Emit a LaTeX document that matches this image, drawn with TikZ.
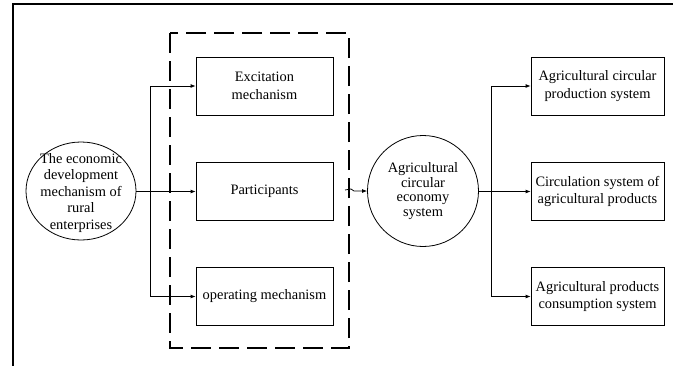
\documentclass[tikz,border=0pt]{standalone}
\usepackage{fontspec}
\setmainfont{Liberation Serif}
\newfontfamily\tnr{Liberation Serif}
\usetikzlibrary{arrows.meta,shapes.geometric}
\begin{document}
\begin{tikzpicture}[x=1pt,y=-1pt,
  txt/.style={font=\tnr\fontsize{14.4}{17.5}\selectfont, align=center},
  boxnode/.style={txt, draw, line width=0.8pt, minimum height=58pt, inner sep=0pt},
  lbox/.style={boxnode, minimum width=137pt},
  rbox/.style={boxnode, minimum width=133pt},
  conn/.style={line width=0.8pt},
  arr/.style={conn, -{Latex[length=5pt,width=4pt]}}
]
\useasboundingbox (0,0) rectangle (673,365);
% outer frame
\draw[line width=2pt] (13,366) -- (13,4) -- (674,4);
% dashed group
\draw[line width=1.4pt, dash pattern=on 20pt off 8pt] (170,33) rectangle (349,348);
% left nodes
\node[ellipse, draw, line width=0.8pt, minimum width=110pt, minimum height=98pt, inner sep=0pt] (ell) at (81,191) {};
\node[txt, font=\tnr\fontsize{14.4}{16.5}\selectfont] (elltext) at (81,193) {The economic\\development\\mechanism of\\rural\\enterprises};
\node[lbox] (e1) at (264.5,86) {Excitation\\mechanism};
\node[lbox] (e2) at (264.5,191.5) {Participants};
\node[lbox] (e3) at (264.5,296.5) {operating mechanism};
% circle
\node[circle, draw, line width=0.8pt, minimum size=111pt, inner sep=0pt, txt, font=\tnr\fontsize{14.4}{14.5}\selectfont] (circ) at (423,191) {Agricultural\\circular\\economy\\system};
% right nodes
\node[rbox] (r1) at (597.5,86) {Agricultural circular\\production system};
\node[rbox] (r2) at (597.5,191.5) {Circulation system of\\agricultural products};
\node[rbox] (r3) at (597.5,296.5) {Agricultural products\\consumption system};
% connectors left
\coordinate (lb) at (150,191.5);
\draw[arr] (ell.east |- e2.west) -- (e2.west);
\draw[arr] (lb) |- (e1.west);
\draw[arr] (lb) |- (e3.west);
% middle
\coordinate (m) at (345,190);
\draw[arr] (m) -- (351,189) -- (354,191) -- (circ.west);
% connectors right
\coordinate (rb) at (491,191.5);
\draw[arr] (circ.east |- r2.west) -- (r2.west);
\draw[arr] (rb) |- (r1.west);
\draw[arr] (rb) |- (r3.west);
\end{tikzpicture}
\end{document}
